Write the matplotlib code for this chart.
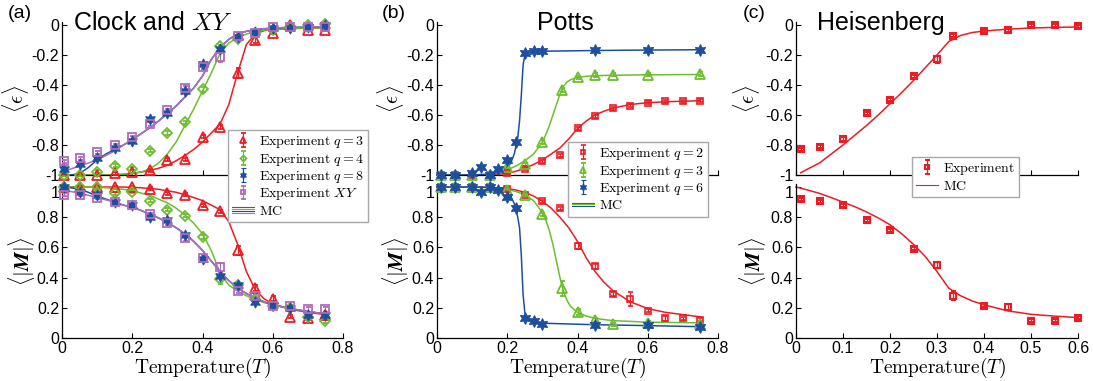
import matplotlib
matplotlib.use('Agg')
import matplotlib.pyplot as plt
from matplotlib.lines import Line2D
from matplotlib.legend_handler import HandlerBase
from matplotlib.ticker import FuncFormatter, MultipleLocator
from matplotlib.transforms import ScaledTranslation

plt.rcParams['font.family'] = ['Liberation Sans', 'DejaVu Sans']
plt.rcParams['mathtext.fontset'] = 'cm'
plt.rcParams['axes.unicode_minus'] = False

RED, GREEN, BLUE, PURPLE = '#ec1c24', '#6cbe2e', '#1d4fa0', '#b06bbd'

# ---------------- (a) Clock and XY : experiment ----------------
T_a = [0.005, 0.05, 0.1, 0.15, 0.2, 0.25, 0.3, 0.35, 0.4, 0.45, 0.5, 0.55, 0.6, 0.65, 0.7, 0.75]
eps_q3 = [-1.0, -1.0, -1.0, -0.99, -0.98, -0.97, -0.9, -0.895, -0.745, -0.68, -0.32, -0.1, -0.05, 0.0, -0.03, -0.03]
eps_q4 = [-1.0, -1.0, -0.98, -0.94, -0.96, -0.84, -0.72, -0.65, -0.43, -0.14, -0.09, -0.05, -0.03, -0.01, 0.0, 0.01]
eps_q8 = [-0.96, -0.93, -0.89, -0.82, -0.77, -0.63, -0.59, -0.44, -0.26, -0.16, -0.08, -0.045, -0.02, -0.02, -0.01, 0.0]
eps_xy = [-0.91, -0.89, -0.85, -0.8, -0.75, -0.66, -0.57, -0.42, -0.28, -0.215, -0.07, -0.05, -0.016, -0.015, -0.01, -0.01]
err_eps_q3 = [0.01, 0.01, 0.01, 0.01, 0.01, 0.01, 0.01, 0.01, 0.01, 0.01, 0.035, 0.02, 0.01, 0.01, 0.01, 0.01]
err_eps_q4 = [0.01, 0.01, 0.01, 0.01, 0.01, 0.01, 0.015, 0.01, 0.015, 0.01, 0.01, 0.01, 0.01, 0.01, 0.01, 0.01]
err_eps_q8 = [0.01, 0.01, 0.01, 0.01, 0.01, 0.01, 0.01, 0.01, 0.015, 0.02, 0.01, 0.01, 0.01, 0.01, 0.01, 0.01]
err_eps_xy = [0.01, 0.01, 0.01, 0.01, 0.01, 0.015, 0.01, 0.015, 0.015, 0.03, 0.01, 0.01, 0.01, 0.01, 0.01, 0.01]
M_q3 = [1.0, 1.0, 1.0, 1.0, 1.0, 0.99, 0.96, 0.95, 0.88, 0.84, 0.58, 0.33, 0.26, 0.14, 0.13, 0.15]
M_q4 = [1.0, 1.0, 1.0, 0.96, 0.97, 0.91, 0.85, 0.81, 0.67, 0.39, 0.35, 0.26, 0.21, 0.2, 0.14, 0.11]
M_q8 = [1.0, 0.97, 0.95, 0.9, 0.88, 0.8, 0.78, 0.68, 0.52, 0.41, 0.35, 0.24, 0.22, 0.2, 0.15, 0.15]
M_xy = [0.95, 0.95, 0.93, 0.9, 0.88, 0.82, 0.76, 0.66, 0.53, 0.47, 0.31, 0.28, 0.21, 0.21, 0.19, 0.19]
err_M_q3 = [0.01, 0.01, 0.01, 0.01, 0.01, 0.01, 0.01, 0.01, 0.01, 0.01, 0.03, 0.02, 0.015, 0.01, 0.01, 0.01]
err_M_q4 = [0.01, 0.01, 0.01, 0.01, 0.01, 0.01, 0.01, 0.01, 0.015, 0.03, 0.01, 0.01, 0.01, 0.01, 0.01, 0.01]
err_M_q8 = [0.01, 0.01, 0.01, 0.01, 0.01, 0.01, 0.01, 0.01, 0.01, 0.015, 0.01, 0.01, 0.01, 0.01, 0.01, 0.01]
err_M_xy = [0.01, 0.01, 0.01, 0.01, 0.01, 0.01, 0.01, 0.015, 0.015, 0.03, 0.01, 0.01, 0.01, 0.01, 0.015, 0.015]

# (a) MC curves
Tmc_a = [0, 0.025, 0.05, 0.075, 0.1, 0.125, 0.15, 0.175, 0.2, 0.225, 0.25, 0.275, 0.3, 0.325,
         0.35, 0.375, 0.4, 0.425, 0.45, 0.475, 0.5, 0.525, 0.55, 0.575, 0.6, 0.65, 0.7, 0.75]
mc_eps_q3 = [-1, -1, -1, -1, -1, -1, -0.998, -0.995, -0.99, -0.98, -0.97, -0.955, -0.935, -0.905,
             -0.87, -0.83, -0.78, -0.72, -0.66, -0.53, -0.32, -0.13, -0.06, -0.038, -0.03, -0.024, -0.021, -0.02]
mc_eps_q4 = [-1, -1, -1, -1, -1, -1, -1, -0.997, -0.99, -0.98, -0.96, -0.92, -0.86, -0.78,
             -0.67, -0.56, -0.44, -0.32, -0.19, -0.12, -0.085, -0.06, -0.045, -0.035, -0.028, -0.022, -0.02, -0.02]
mc_eps_q8 = [-1, -1, -0.99, -0.95, -0.9, -0.86, -0.83, -0.8, -0.765, -0.725, -0.685, -0.64, -0.59, -0.54,
             -0.48, -0.42, -0.34, -0.23, -0.15, -0.095, -0.06, -0.042, -0.032, -0.025, -0.02, -0.016, -0.014, -0.013]
mc_eps_xy = [-0.975, -0.96, -0.94, -0.92, -0.9, -0.87, -0.84, -0.8, -0.765, -0.725, -0.685, -0.64, -0.59, -0.54,
             -0.48, -0.42, -0.34, -0.23, -0.15, -0.095, -0.06, -0.042, -0.032, -0.025, -0.02, -0.016, -0.014, -0.013]
mc_M_q3 = [1, 1, 1, 1, 1, 1, 1, 1, 0.998, 0.995, 0.99, 0.985, 0.975, 0.965,
           0.95, 0.93, 0.91, 0.88, 0.85, 0.77, 0.62, 0.44, 0.32, 0.26, 0.225, 0.19, 0.17, 0.155]
mc_M_q4 = [1, 1, 1, 1, 0.998, 0.995, 0.99, 0.985, 0.975, 0.96, 0.945, 0.92, 0.895, 0.86,
           0.815, 0.76, 0.69, 0.58, 0.43, 0.35, 0.31, 0.28, 0.255, 0.235, 0.22, 0.195, 0.175, 0.16]
mc_M_q8 = [1, 0.995, 0.985, 0.965, 0.94, 0.92, 0.9, 0.88, 0.865, 0.845, 0.82, 0.795, 0.765, 0.73,
           0.69, 0.64, 0.58, 0.51, 0.44, 0.38, 0.33, 0.295, 0.265, 0.24, 0.22, 0.195, 0.175, 0.16]
mc_M_xy = [0.98, 0.97, 0.96, 0.945, 0.93, 0.915, 0.9, 0.88, 0.865, 0.845, 0.82, 0.795, 0.765, 0.73,
           0.69, 0.64, 0.58, 0.51, 0.44, 0.38, 0.33, 0.295, 0.265, 0.24, 0.22, 0.195, 0.175, 0.16]

# ---------------- (b) Potts : experiment ----------------
T_p2 = [0.01, 0.05, 0.1, 0.15, 0.2, 0.25, 0.3, 0.35, 0.4, 0.45, 0.5, 0.55, 0.6, 0.65, 0.7, 0.75]
eps_p2 = [-1, -1, -1, -1, -0.99, -0.96, -0.91, -0.87, -0.69, -0.61, -0.555, -0.54, -0.52, -0.51, -0.51, -0.505]
M_p2 = [1.0, 1.0, 1.0, 1.0, 0.99, 0.95, 0.905, 0.86, 0.61, 0.475, 0.29, 0.26, 0.18, 0.13, 0.13, 0.12]
err_M_p2 = [0.01, 0.01, 0.01, 0.01, 0.01, 0.01, 0.01, 0.01, 0.02, 0.015, 0.015, 0.045, 0.01, 0.015, 0.01, 0.01]
T_p3 = [0.01, 0.05, 0.1, 0.15, 0.2, 0.25, 0.3, 0.355, 0.4, 0.45, 0.5, 0.6, 0.75]
eps_p3 = [-1, -1, -1, -1, -0.95, -0.93, -0.78, -0.435, -0.35, -0.335, -0.33, -0.33, -0.325]
M_p3 = [1, 1, 1, 1, 0.98, 0.95, 0.82, 0.33, 0.17, 0.12, 0.09, 0.1, 0.095]
err_M_p3 = [0.01, 0.01, 0.01, 0.01, 0.01, 0.01, 0.01, 0.05, 0.02, 0.015, 0.01, 0.01, 0.01]
T_p6 = [0.01, 0.05, 0.1, 0.125, 0.15, 0.175, 0.2, 0.225, 0.25, 0.275, 0.3, 0.45, 0.6, 0.75]
eps_p6 = [-1, -1, -0.99, -0.95, -1, -0.96, -0.9, -0.78, -0.185, -0.17, -0.17, -0.165, -0.165, -0.165]
M_p6 = [1.0, 1.0, 1.0, 0.97, 1.0, 0.98, 0.935, 0.86, 0.135, 0.115, 0.095, 0.085, 0.085, 0.07]

# (b) MC curves
Tmc_p2 = [0, 0.05, 0.1, 0.15, 0.2, 0.225, 0.25, 0.275, 0.3, 0.325, 0.35, 0.375, 0.4,
          0.425, 0.45, 0.475, 0.5, 0.55, 0.6, 0.65, 0.7, 0.75]
mc_eps_p2 = [-1, -1, -1, -0.998, -0.99, -0.975, -0.955, -0.93, -0.9, -0.86, -0.82, -0.76, -0.69,
             -0.64, -0.6, -0.575, -0.555, -0.53, -0.518, -0.512, -0.508, -0.505]
mc_M_p2 = [1, 1, 1, 0.998, 0.99, 0.98, 0.965, 0.94, 0.905, 0.86, 0.8, 0.73, 0.64,
           0.53, 0.44, 0.37, 0.315, 0.24, 0.195, 0.17, 0.155, 0.14]
Tmc_p3 = [0, 0.05, 0.1, 0.15, 0.2, 0.225, 0.25, 0.275, 0.3, 0.31, 0.32, 0.33, 0.34, 0.35,
          0.36, 0.37, 0.38, 0.4, 0.425, 0.45, 0.5, 0.6, 0.75]
mc_eps_p3 = [-1, -1, -1, -0.995, -0.965, -0.94, -0.905, -0.86, -0.78, -0.73, -0.67, -0.6, -0.53, -0.46,
             -0.41, -0.38, -0.365, -0.35, -0.342, -0.338, -0.335, -0.332, -0.33]
mc_M_p3 = [1, 1, 1, 0.995, 0.985, 0.97, 0.95, 0.91, 0.83, 0.78, 0.71, 0.62, 0.51, 0.4,
           0.31, 0.25, 0.21, 0.17, 0.145, 0.13, 0.115, 0.105, 0.1]
Tmc_p6 = [0, 0.05, 0.1, 0.15, 0.175, 0.2, 0.21, 0.22, 0.23, 0.235, 0.24, 0.245, 0.25, 0.255,
          0.26, 0.275, 0.3, 0.45, 0.6, 0.75]
mc_eps_p6 = [-1, -1, -1, -0.995, -0.98, -0.95, -0.92, -0.86, -0.75, -0.64, -0.47, -0.27, -0.2, -0.185,
             -0.18, -0.177, -0.175, -0.17, -0.167, -0.165]
mc_M_p6 = [1, 1, 1, 0.998, 0.99, 0.965, 0.94, 0.89, 0.8, 0.73, 0.55, 0.29, 0.17, 0.135,
           0.12, 0.105, 0.098, 0.088, 0.082, 0.075]

# ---------------- (c) Heisenberg ----------------
T_h = [0.01, 0.05, 0.1, 0.15, 0.2, 0.25, 0.3, 0.333, 0.4, 0.45, 0.5, 0.55, 0.6]
eps_h = [-0.83, -0.81, -0.76, -0.59, -0.5, -0.34, -0.23, -0.073, -0.04, -0.035, -0.003, -0.003, -0.007]
err_eps_h = [0.01, 0.01, 0.015, 0.01, 0.01, 0.01, 0.025, 0.01, 0.01, 0.01, 0.01, 0.01, 0.01]
M_h = [0.918, 0.907, 0.878, 0.78, 0.715, 0.59, 0.485, 0.28, 0.215, 0.205, 0.115, 0.115, 0.135]
err_M_h = [0.01, 0.01, 0.01, 0.01, 0.01, 0.01, 0.02, 0.03, 0.01, 0.02, 0.01, 0.01, 0.01]
Tmc_h_eps = [0.01, 0.025, 0.05, 0.075, 0.1, 0.125, 0.15, 0.175, 0.2, 0.225, 0.25, 0.275, 0.3,
             0.325, 0.35, 0.375, 0.4, 0.45, 0.5, 0.55, 0.6]
mc_eps_h = [-0.985, -0.96, -0.92, -0.86, -0.8, -0.735, -0.67, -0.6, -0.525, -0.45, -0.37, -0.285, -0.2,
            -0.11, -0.07, -0.05, -0.04, -0.028, -0.02, -0.016, -0.013]
Tmc_h_M = [0, 0.025, 0.05, 0.075, 0.1, 0.125, 0.15, 0.175, 0.2, 0.225, 0.25, 0.275, 0.3,
           0.325, 0.35, 0.375, 0.4, 0.45, 0.5, 0.55, 0.6]
mc_M_h = [1.0, 0.98, 0.958, 0.93, 0.9, 0.87, 0.835, 0.795, 0.75, 0.69, 0.62, 0.54, 0.44,
          0.33, 0.28, 0.245, 0.22, 0.18, 0.157, 0.145, 0.135]


W, H = 1093, 381
fig = plt.figure(figsize=(W / 100, H / 100), dpi=100)


def axes_px(left, right, bottom, top):
    # pixel box -> figure fraction (pixels measured from top-left)
    return fig.add_axes([left / W, 1 - bottom / H, (right - left) / W, (bottom - top) / H])


fmt = FuncFormatter(lambda v, p: '%g' % round(v, 3))


def style(ax, xmax, xstep, ylim, ystep, xlabels):
    ax.set_xlim(0, xmax)
    ax.set_ylim(*ylim)
    for s in ['top', 'right']:
        ax.spines[s].set_visible(False)
    for s in ['left', 'bottom']:
        ax.spines[s].set_linewidth(0.9)
    ax.xaxis.set_major_locator(MultipleLocator(xstep))
    ax.yaxis.set_major_locator(MultipleLocator(ystep))
    ax.xaxis.set_major_formatter(fmt)
    ax.yaxis.set_major_formatter(fmt)
    ax.tick_params(direction='in', length=3.5, width=0.8, labelsize=11.5, pad=2)
    ax.patch.set_alpha(0)
    if not xlabels:
        ax.tick_params(axis='x', labelbottom=False)
    else:
        ax.set_xlabel(r'$\mathrm{Temperature}(T)$', fontsize=14, labelpad=0)


def exp(ax, T, y, err, color, marker, ms, mfc='none', mew=1.3):
    return ax.errorbar(T, y, yerr=err, marker=marker, linestyle='none', color=color, ms=ms,
                       mfc=mfc, mec=color, mew=mew, elinewidth=0.9, capsize=1.8, capthick=0.9,
                       clip_on=False, zorder=3)


def mc(ax, T, y, color):
    ax.plot(T, y, '-', color=color, lw=1.1, zorder=2, clip_on=False)


class StackedLines(HandlerBase):
    # MC legend entry: one short line per colour, stacked
    def __init__(self, colors, gap=1.4):
        super().__init__()
        self.colors = colors
        self.gap = gap

    def create_artists(self, legend, orig_handle, xdescent, ydescent, width, height, fontsize, trans):
        n = len(self.colors)
        arts = []
        for i, c in enumerate(self.colors):
            y = height / 2 - ydescent + ((n - 1) / 2 - i) * self.gap
            arts.append(Line2D([-xdescent, width - xdescent], [y, y], color=c, lw=0.8, transform=trans))
        return arts


def legend(handles, labels, x, y, colors):
    mc_handle = Line2D([], [], color=colors[0])
    fig.legend(handles + [mc_handle], labels + [r'$\mathrm{MC}$'], loc='upper left',
               bbox_to_anchor=(x / W, 1 - y / H), borderaxespad=0, fancybox=False,
               edgecolor='#a8a8a8', framealpha=1, prop={'size': 10}, handlelength=1.6,
               handletextpad=0.3, labelspacing=0.1, borderpad=0.3, markerscale=0.6,
               handler_map={mc_handle: StackedLines(colors)})


top_lim = (-1, 0.02)
bot_lim = (0, 1.02)
eps_label = r'$\langle\epsilon\rangle$'
M_label = r'$\langle|\boldsymbol{M}|\rangle$'
bottom_axes = []

# ---------- panel (a) ----------
axt = axes_px(62, 343, 175, 22)
axb = axes_px(62, 343, 338, 184)
bottom_axes.append(axb)
style(axt, 0.8, 0.2, top_lim, 0.2, False)
style(axb, 0.8, 0.2, bot_lim, 0.2, True)
for T, y, c in [(Tmc_a, mc_eps_q3, RED), (Tmc_a, mc_eps_q4, GREEN), (Tmc_a, mc_eps_q8, BLUE), (Tmc_a, mc_eps_xy, PURPLE)]:
    mc(axt, T, y, c)
for T, y, c in [(Tmc_a, mc_M_q3, RED), (Tmc_a, mc_M_q4, GREEN), (Tmc_a, mc_M_q8, BLUE), (Tmc_a, mc_M_xy, PURPLE)]:
    mc(axb, T, y, c)
h1 = exp(axt, T_a, eps_q3, err_eps_q3, RED, '^', 6.5)
h2 = exp(axt, T_a, eps_q4, err_eps_q4, GREEN, 'D', 5)
h3 = exp(axt, T_a, eps_q8, err_eps_q8, BLUE, (6, 1, 0), 8, mfc=BLUE, mew=0.8)
h4 = exp(axt, T_a, eps_xy, err_eps_xy, PURPLE, 's', 5.5)
exp(axb, T_a, M_q3, err_M_q3, RED, '^', 6.5)
exp(axb, T_a, M_q4, err_M_q4, GREEN, 'D', 5)
exp(axb, T_a, M_q8, err_M_q8, BLUE, (6, 1, 0), 8, mfc=BLUE, mew=0.8)
exp(axb, T_a, M_xy, err_M_xy, PURPLE, 's', 5.5)
axt.set_ylabel(eps_label, fontsize=15)
axb.set_ylabel(M_label, fontsize=15)
axt.yaxis.set_label_coords(-0.112, 0.5)
axb.yaxis.set_label_coords(-0.09, 0.5)
fig.text(73 / W, 1 - 23 / H, r'Clock and $XY$', fontsize=18, va='center', ha='left')
fig.text(8 / W, 1 - 14 / H, '(a)', fontsize=14, va='center', ha='left')
legend([h1, h2, h3, h4],
       [r'$\mathrm{Experiment}\ q=3$', r'$\mathrm{Experiment}\ q=4$',
        r'$\mathrm{Experiment}\ q=8$', r'$\mathrm{Experiment}\ XY$'],
       228, 130, [RED, GREEN, BLUE, PURPLE])

# ---------- panel (b) ----------
axt = axes_px(437, 718, 175, 22)
axb = axes_px(437, 718, 338, 184)
bottom_axes.append(axb)
style(axt, 0.8, 0.2, top_lim, 0.2, False)
style(axb, 0.8, 0.2, bot_lim, 0.2, True)
mc(axt, Tmc_p2, mc_eps_p2, RED)
mc(axt, Tmc_p3, mc_eps_p3, GREEN)
mc(axt, Tmc_p6, mc_eps_p6, BLUE)
mc(axb, Tmc_p2, mc_M_p2, RED)
mc(axb, Tmc_p3, mc_M_p3, GREEN)
mc(axb, Tmc_p6, mc_M_p6, BLUE)
h1 = exp(axt, T_p2, eps_p2, [0.01] * len(T_p2), RED, 's', 4.5, mew=1.2)
h2 = exp(axt, T_p3, eps_p3, [0.012] * len(T_p3), GREEN, '^', 6.5)
h3 = exp(axt, T_p6, eps_p6, [0.01] * len(T_p6), BLUE, (6, 1, 0), 8.5, mfc=BLUE, mew=0.8)
exp(axb, T_p2, M_p2, err_M_p2, RED, 's', 4.5, mew=1.2)
exp(axb, T_p3, M_p3, err_M_p3, GREEN, '^', 6.5)
exp(axb, T_p6, M_p6, [0.01] * len(T_p6), BLUE, (6, 1, 0), 8.5, mfc=BLUE, mew=0.8)
axt.set_ylabel(eps_label, fontsize=15)
axb.set_ylabel(M_label, fontsize=15)
axt.yaxis.set_label_coords(-0.112, 0.5)
axb.yaxis.set_label_coords(-0.092, 0.5)
fig.text(565 / W, 1 - 23 / H, 'Potts', fontsize=18, va='center', ha='center')
fig.text(382 / W, 1 - 14 / H, '(b)', fontsize=14, va='center', ha='left')
legend([h1, h2, h3],
       [r'$\mathrm{Experiment}\ q=2$', r'$\mathrm{Experiment}\ q=3$', r'$\mathrm{Experiment}\ q=6$'],
       568, 142, [RED, GREEN, BLUE])

# ---------- panel (c) ----------
axt = axes_px(796, 1078, 175, 22)
axb = axes_px(796, 1078, 338, 184)
bottom_axes.append(axb)
style(axt, 0.6, 0.1, top_lim, 0.2, False)
style(axb, 0.6, 0.1, bot_lim, 0.2, True)
mc(axt, Tmc_h_eps, mc_eps_h, RED)
mc(axb, Tmc_h_M, mc_M_h, RED)
h1 = exp(axt, T_h, eps_h, err_eps_h, RED, 's', 5, mew=1.5)
exp(axb, T_h, M_h, err_M_h, RED, 's', 5, mew=1.5)
axt.set_ylabel(eps_label, fontsize=15)
axb.set_ylabel(M_label, fontsize=15)
axt.yaxis.set_label_coords(-0.12, 0.5)
axb.yaxis.set_label_coords(-0.099, 0.5)
fig.text(881 / W, 1 - 23 / H, 'Heisenberg', fontsize=18, va='center', ha='center')
fig.text(743 / W, 1 - 14 / H, '(c)', fontsize=14, va='center', ha='left')
legend([h1], [r'$\mathrm{Experiment}$'], 912, 157, [RED])

# the "1" of each lower axis sits a little lower, clear of the "-1" above it
fig.canvas.draw()
for ax in bottom_axes:
    for t in ax.yaxis.get_major_ticks():
        if abs(t.get_loc() - 1.0) < 1e-6:
            t.label1.set_transform(t.label1.get_transform() + ScaledTranslation(0, -5 / 100, fig.dpi_scale_trans))

fig.savefig('out.png', dpi=100)
